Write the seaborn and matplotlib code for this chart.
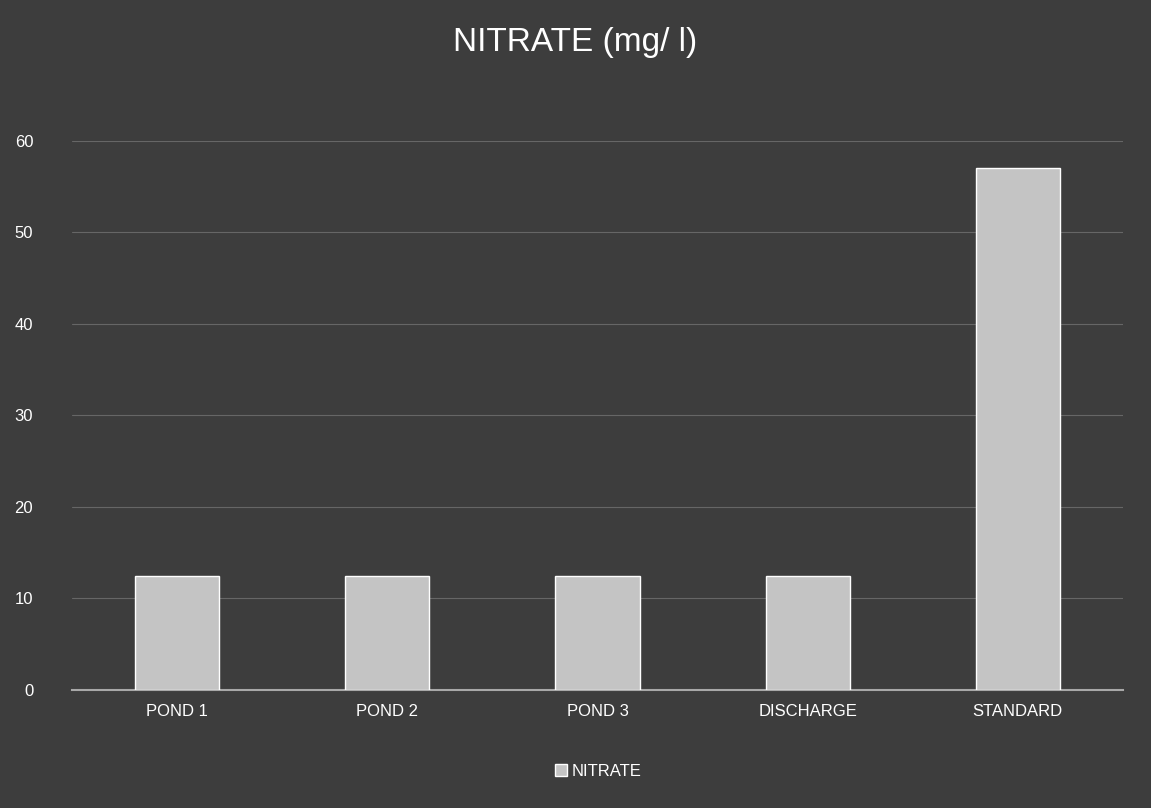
import matplotlib
matplotlib.use("Agg")
import matplotlib.pyplot as plt
import seaborn as sns
import pandas as pd
from matplotlib.patches import Patch

categories = ["POND 1", "POND 2", "POND 3", "DISCHARGE", "STANDARD"]
nitrate = [12.5, 12.5, 12.5, 12.5, 57]
y_ticks = [0, 10, 20, 30, 40, 50, 60]
title = "NITRATE (mg/ l)"
series_name = "NITRATE"

df = pd.DataFrame({"site": categories, "value": nitrate})

sns.set_theme(style="dark")
plt.rcParams['font.family'] = ['Liberation Sans', 'DejaVu Sans']

bg = "#3d3d3d"
bar_color = "#c4c4c4"

fig = plt.figure(figsize=(11.51, 8.08), dpi=100, facecolor=bg)
ax = fig.add_axes([0.0626, 0.146, 0.913, 0.68])
ax.set_facecolor(bg)

sns.barplot(data=df, x="site", y="value", color=bar_color, width=0.40,
            saturation=1, ax=ax, zorder=3)

ax.set_ylim(0, 60)
ax.set_yticks(y_ticks)
ax.set_yticklabels([str(t) for t in y_ticks], color="white", fontsize=12)
ax.tick_params(axis="y", length=0, pad=28)
ax.tick_params(axis="x", length=0, pad=10, colors="white", labelsize=12)
ax.set_xlabel("")
ax.set_ylabel("")
ax.grid(axis="y", color="#666666", linewidth=0.8, zorder=0)
ax.grid(axis="x", visible=False)
for s in ["top", "right", "left"]:
    ax.spines[s].set_visible(False)
ax.spines["bottom"].set_color("#a8a8a8")
ax.spines["bottom"].set_linewidth(1.5)

fig.text(0.5, 0.948, title, ha="center", va="center", color="white", fontsize=24)

leg = fig.legend(handles=[Patch(facecolor=bar_color, label=series_name)],
                 loc="center", bbox_to_anchor=(0.52, 0.045), frameon=False,
                 handlelength=0.7, handleheight=0.7, handletextpad=0.3, fontsize=12)
for t in leg.get_texts():
    t.set_color("white")

fig.savefig("out.png", dpi=100, facecolor=bg)
